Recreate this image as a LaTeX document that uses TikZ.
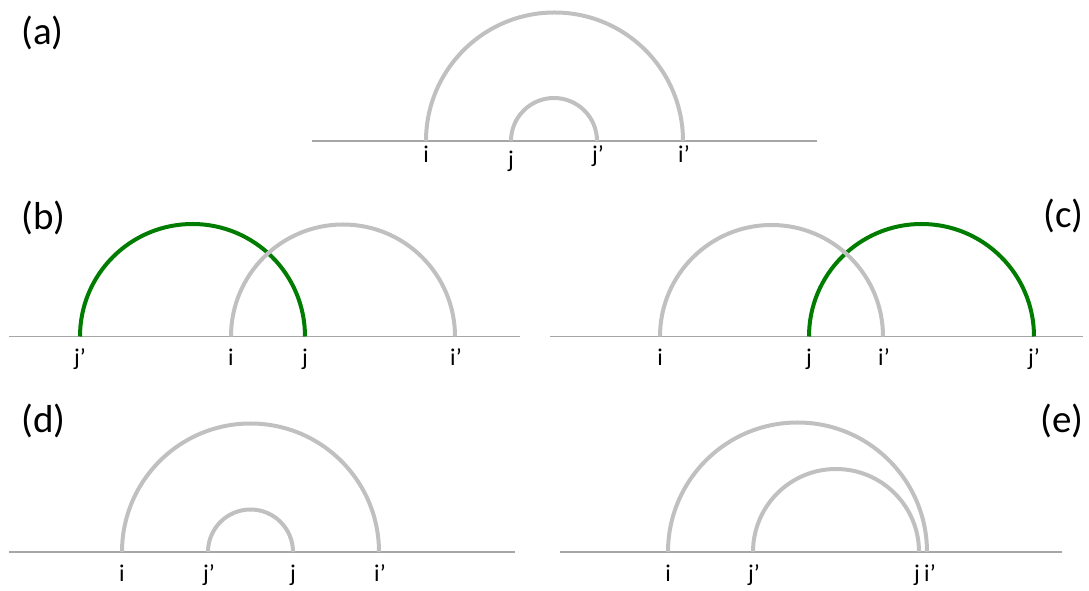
\documentclass[tikz,border=0pt]{standalone}
\usepackage{fontspec}
\setmainfont{Carlito}
\definecolor{arcgray}{HTML}{C0C0C0}
\definecolor{arcgreen}{HTML}{007D00}
\definecolor{basegray}{HTML}{A6A6A6}
\tikzset{
  baseline line/.style={draw=basegray, line width=1.2pt},
  grayarc/.style={draw=arcgray, line width=4pt},
  greenarc/.style={draw=arcgreen, line width=4pt},
  lab/.style={font=\fontsize{24}{28}\selectfont, anchor=base, inner sep=0pt},
  panel/.style={font=\fontsize{39}{44}\selectfont, anchor=base west, inner sep=0pt}
}
\begin{document}
\begin{tikzpicture}[x=1pt,y=1pt]
\useasboundingbox (0,0) rectangle (1089,591);
% ---------- (a)
\node[panel] (pa) at (21,546) {(a)};
\coordinate (aL) at (312,450); \coordinate (aR) at (817,450);
\draw[baseline line] (aL) -- (aR);
\coordinate (ai) at (426,450); \coordinate (aj) at (511,450);
\draw[grayarc] (ai) arc[start angle=180,end angle=0,radius=128.5];
\draw[grayarc] (aj) arc[start angle=180,end angle=0,radius=43];
\node[lab] (lai) at (426,428) {i};
\node[lab] (laj) at (511,423) {j};
\node[lab] (lajp) at (598,428) {j’};
\node[lab] (laip) at (684,428) {i’};
% ---------- (b)
\node[panel] (pb) at (21,361) {(b)};
\coordinate (bL) at (9,254.5); \coordinate (bR) at (520,254.5);
\draw[baseline line] (bL) -- (bR);
\coordinate (bjp) at (80,254.5); \coordinate (bi) at (231,254.5);
\draw[greenarc] (bjp) arc[start angle=180,end angle=0,radius=112.5];
\draw[grayarc] (bi) arc[start angle=180,end angle=0,radius=112];
\node[lab] (lbjp) at (80,225) {j’};
\node[lab] (lbi) at (231,225) {i};
\node[lab] (lbj) at (305,225) {j};
\node[lab] (lbip) at (456,225) {i’};
% ---------- (c)
\node[panel, anchor=base east] (pc) at (1084,363) {(c)};
\coordinate (cL) at (550,254.5); \coordinate (cR) at (1083,254.5);
\draw[baseline line] (cL) -- (cR);
\coordinate (ci) at (660,254.5); \coordinate (cj) at (809,254.5);
\draw[greenarc] (cj) arc[start angle=180,end angle=0,radius=112.5];
\draw[grayarc] (ci) arc[start angle=180,end angle=0,radius=111.5];
\node[lab] (lci) at (660,225) {i};
\node[lab] (lcj) at (809,225) {j};
\node[lab] (lcip) at (884,225) {i’};
\node[lab] (lcjp) at (1034,225) {j’};
% ---------- (d)
\node[panel] (pd) at (21,158) {(d)};
\coordinate (dL) at (9,39); \coordinate (dR) at (515,39);
\draw[baseline line] (dL) -- (dR);
\coordinate (di) at (122,39); \coordinate (djp) at (208,39);
\draw[grayarc] (di) arc[start angle=180,end angle=0,radius=128.5];
\draw[grayarc] (djp) arc[start angle=180,end angle=0,radius=42.5];
\node[lab] (ldi) at (122,9) {i};
\node[lab] (ldjp) at (209,9) {j’};
\node[lab] (ldj) at (293,9) {j};
\node[lab] (ldip) at (380,9) {i’};
% ---------- (e)
\node[panel, anchor=base east] (pe) at (1084,158) {(e)};
\coordinate (eL) at (560,39); \coordinate (eR) at (1062,39);
\draw[baseline line] (eL) -- (eR);
\coordinate (ei) at (668,39); \coordinate (ejp) at (753,39);
\draw[grayarc] (ei) arc[start angle=180,end angle=0,radius=129.5];
\draw[grayarc] (ejp) arc[start angle=180,end angle=0,radius=83];
\node[lab] (lei) at (668,9) {i};
\node[lab] (lejp) at (754,9) {j’};
\node[lab] (lej) at (917,9) {j};
\node[lab] (leip) at (930,9) {i’};
\end{tikzpicture}
\end{document}
